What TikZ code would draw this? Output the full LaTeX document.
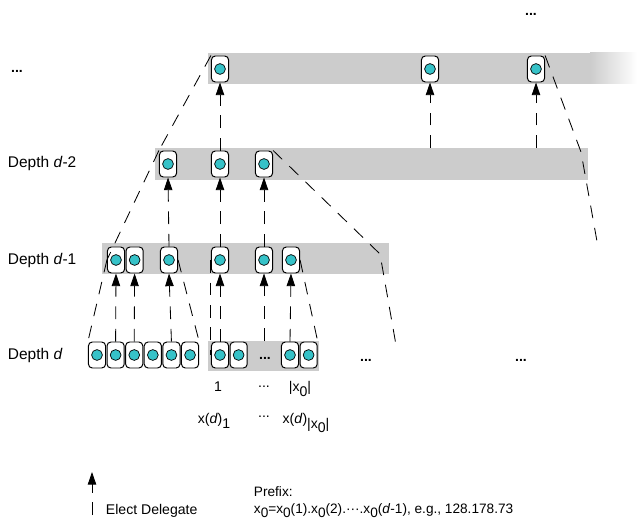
\documentclass[tikz,border=0pt]{standalone}
\usepackage{fontspec}
\setmainfont{Liberation Sans}
\usetikzlibrary{arrows.meta, positioning}
\definecolor{bandgray}{RGB}{204,204,204}
\definecolor{dotcyan}{RGB}{54,194,200}
\newcommand{\lowsub}[1]{\raisebox{-0.6ex}{#1}}

\begin{document}
\begin{tikzpicture}[x=0.025cm, y=-0.025cm, node distance=0.3pt,
    every node/.style={font=\fontsize{10}{12}\selectfont},
    dlg/.style={draw, rounded corners=2.8pt, fill=white, line width=0.7pt, minimum width=0.43cm, minimum height=0.65cm, inner sep=0pt,
        path picture={\filldraw[fill=dotcyan, draw=black, line width=0.5pt] (path picture bounding box.center) circle (0.135cm);}},
    arr/.style={line width=0.6pt, dash pattern=on 9pt off 7pt, -{Triangle[length=9pt, width=6pt]}},
    cone/.style={line width=0.6pt, dash pattern=on 9pt off 7pt},
    lvl/.style={anchor=west, font=\fontsize{11}{13}\selectfont},
    dots/.style={font=\fontsize{10}{12}\selectfont\bfseries}]
    \useasboundingbox (0,0) rectangle (637,525);

    % level bands
    \fill[bandgray] (208,53) rectangle (590,84);
    \shade[left color=bandgray, right color=white] (590,53) rectangle (637,84);
    \fill[bandgray] (155,148) rectangle (588,180);
    \fill[bandgray] (102,243) rectangle (389,274);
    \fill[bandgray] (208,341) rectangle (319,371);

    % delegates, top level
    \node[dlg] (a1) at (220,69) {};
    \node[dlg] (a2) at (430,69) {};
    \node[dlg] (a3) at (536,69) {};
    % depth d-2
    \node[dlg] (b1) at (168,164) {};
    \node[dlg] (b2) at (220,164) {};
    \node[dlg] (b3) at (264,164) {};
    % depth d-1
    \node[dlg] (c1) at (116,260) {};
    \node[dlg, right=of c1] (c2) {};
    \node[dlg] (c3) at (169,260) {};
    \node[dlg] (c4) at (220,260) {};
    \node[dlg] (c5) at (264,260) {};
    \node[dlg] (c6) at (291,260) {};
    % depth d
    \node[dlg] (d1) at (97,355) {};
    \foreach \i [count=\j from 2] in {1,...,5}
        \node[dlg, right=of d\i] (d\j) {};
    \node[dlg] (d7) at (220,355) {};
    \node[dlg, right=of d7] (d8) {};
    \node[dots] (dd) at (265,358) {...};
    \node[dlg] (d9) at (290,355) {};
    \node[dlg, right=of d9] (d10) {};

    \coordinate (dtop) at (264,341);
    \coordinate (btop2) at (430,148);
    \coordinate (btop3) at (536,148);
    \coordinate (bend1) at (380,254);
    \coordinate (end1) at (396,345);
    \coordinate (bend2) at (581,152);
    \coordinate (end2) at (598,247);

    % elect delegate arrows
    \draw[arr] (d2.north) -- (c1.south);
    \draw[arr] (d3.north) -- (c2.south);
    \draw[arr] (d5.north) -- (c3.south);
    \draw[arr] (d7.north) -- (c4.south);
    \draw[arr] (dtop) -- (c5.south);
    \draw[arr] (d9.north) -- (c6.south);
    \draw[arr] (c3.north) -- (b1.south);
    \draw[arr] (c4.north) -- (b2.south);
    \draw[arr] (c5.north) -- (b3.south);
    \draw[arr] (b2.north) -- (a1.south);
    \draw[arr] (btop2) -- (a2.south);
    \draw[arr] (btop3) -- (a3.south);

    % subtree cones
    \draw[cone] (a1.north west) -- (b1.north west);
    \draw[cone] (b1.north west) -- (c1.west);
    \draw[cone] (c1.west) -- (d1.north west);
    \draw[cone] (c3.east) -- (d6.north east);
    \draw[cone] (c4.west) -- (d7.west);
    \draw[cone] (c6.east) -- (d10.north east);
    \draw[cone] (b3.north east) -- (bend1) -- (end1);
    \draw[cone] (a3.north east) -- (bend2) -- (end2);

    % labels
    \node[dots] (topdots) at (531,14) {...};
    \node[dots] (lvldots) at (17,71) {...};
    \node[lvl] (ld2) at (3,164) {Depth \textit{d}-2};
    \node[lvl] (ld1) at (3,260) {Depth \textit{d}-1};
    \node[lvl] (ld0) at (3,355) {Depth \textit{d}};
    \node[dots] (rd1) at (366,360) {...};
    \node[dots] (rd2) at (521,360) {...};
    \node (n1) at (218,387) {1};
    \node (n2) at (264,387) {...};
    \node (n3) at (300,389) {|x\lowsub{0}|};
    \node (x1) at (214,421) {x(\textit{d})\lowsub{1}};
    \node (x2) at (264,417) {...};
    \node (x3) at (306,423) {x(\textit{d})\lowsub{|x\lowsub{0}|}};

    % legend
    \coordinate (legbot) at (92,515);
    \coordinate (legtop) at (92,472);
    \draw[arr] (legbot) -- (legtop);
    \node[anchor=west] (legtxt) at (101,511) {Elect Delegate};
    \node[anchor=west, align=left, font=\fontsize{9.7}{12}\selectfont] (prefix) at (249,502) {Prefix:\\x\lowsub{0}=x\lowsub{0}(1).x\lowsub{0}(2).···.x\lowsub{0}(\textit{d}-1), e.g., 128.178.73};
\end{tikzpicture}
\end{document}
